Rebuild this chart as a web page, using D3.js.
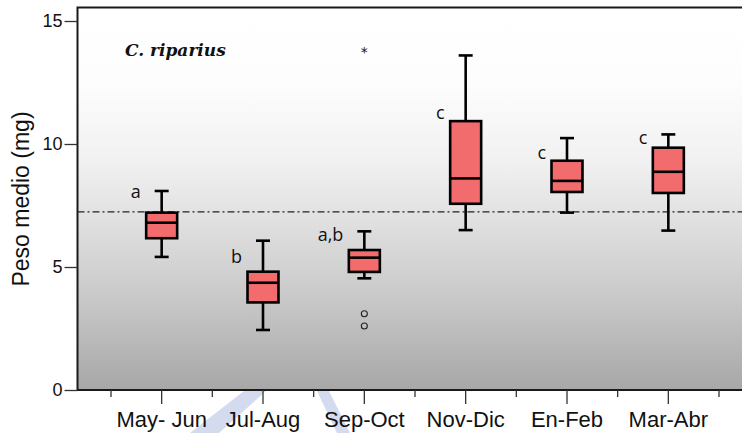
<!DOCTYPE html>
<html>
<head>
<meta charset="utf-8">
<script src="https://cdn.jsdelivr.net/npm/d3@7"></script>
<style>
  body { margin: 0; background: #fff; }
  svg { display: block; }
</style>
</head>
<body>
<svg width="742" height="433"></svg>
<script>
const categories = ["May- Jun", "Jul-Aug", "Sep-Oct", "Nov-Dic", "En-Feb", "Mar-Abr"];
const whiskerLow = [5.41, 2.44, 4.54, 6.50, 7.21, 6.48];
const q1 = [6.17, 3.56, 4.80, 7.57, 8.05, 8.01];
const median = [6.80, 4.36, 5.38, 8.60, 8.50, 8.87];
const q3 = [7.21, 4.81, 5.69, 10.93, 9.32, 9.85];
const whiskerHigh = [8.09, 6.07, 6.45, 13.60, 10.24, 10.39];
const letters = ["a", "b", "a,b", "c", "c", "c"];
const letterValue = [7.80, 5.16, 6.06, 11.02, 9.39, 10.00];
const outlierCat = ["Sep-Oct", "Sep-Oct"];
const outlierVal = [3.10, 2.60];
const extremeCat = ["Sep-Oct"];
const extremeVal = [13.82];
const refValue = 7.24;
const yTicks = [0, 5, 10, 15];

const svg = d3.select("svg");

const plotLeft = 77.5, plotTop = 7.5, plotBottom = 390, plotRight = 760;

const x = d3.scaleBand().domain(categories).range([111, 719]);
const y = d3.scaleLinear().domain([0, 15]).range([390, 21]);

// watermark behind the plot
const wm = "#d4dbee";
svg.append("polygon").attr("points", "244,391 266,391 219,433 190,433").attr("fill", wm);
svg.append("polygon").attr("points", "317,391 329,391 350,433 337,433").attr("fill", wm);

// gradient background
const grad = svg.append("defs").append("linearGradient")
    .attr("id", "bg").attr("x1", 0).attr("y1", 0).attr("x2", 0).attr("y2", 1);
[[0, "#ffffff"], [0.2, "#fdfdfd"], [0.4, "#f1f1f1"], [0.55, "#e1e1e1"], [0.75, "#cacaca"], [1, "#a7a7a7"]]
    .forEach(s => grad.append("stop").attr("offset", s[0]).attr("stop-color", s[1]));

svg.append("rect")
    .attr("x", plotLeft).attr("y", plotTop)
    .attr("width", plotRight - plotLeft).attr("height", plotBottom - plotTop)
    .attr("fill", "url(#bg)")
    .attr("stroke", "#1a1a1a").attr("stroke-width", 2);

// reference line
svg.append("line")
    .attr("x1", plotLeft).attr("x2", plotRight)
    .attr("y1", y(refValue)).attr("y2", y(refValue))
    .attr("stroke", "#222").attr("stroke-width", 1.2)
    .attr("stroke-dasharray", "7,3,2,3");

// y axis
const yAxis = svg.append("g")
    .attr("transform", `translate(${plotLeft},0)`)
    .call(d3.axisLeft(y).tickValues(yTicks).tickSize(13).tickPadding(2));
yAxis.select(".domain").remove();
yAxis.selectAll("line").attr("stroke", "#333").attr("stroke-width", 1.3);
yAxis.selectAll("text").attr("font-family", "Liberation Sans, Arial, sans-serif")
    .attr("font-size", 18).attr("fill", "#111");

// x axis: major ticks at categories, minor at band edges
const xAxis = svg.append("g")
    .attr("transform", `translate(0,${plotBottom})`)
    .call(d3.axisBottom(x).tickSize(14).tickPadding(7));
xAxis.select(".domain").remove();
xAxis.selectAll("line").attr("stroke", "#333").attr("stroke-width", 1.3);
xAxis.selectAll("text").attr("font-family", "Liberation Sans, Arial, sans-serif")
    .attr("font-size", 22).attr("fill", "#111");

const edges = categories.map(c => x(c)).concat([x.range()[1]]);
svg.append("g").selectAll("line").data(edges).join("line")
    .attr("x1", d => d).attr("x2", d => d)
    .attr("y1", plotBottom).attr("y2", plotBottom + 7)
    .attr("stroke", "#333").attr("stroke-width", 1.3);

// axis title
svg.append("text")
    .attr("transform", "translate(29,199) rotate(-90)")
    .attr("text-anchor", "middle")
    .attr("font-family", "Liberation Sans, Arial, sans-serif")
    .attr("font-size", 23).attr("fill", "#111")
    .text("Peso medio (mg)");

// species label
svg.append("text")
    .attr("x", 125).attr("y", 56)
    .attr("font-family", "DejaVu Serif, serif")
    .attr("font-style", "italic").attr("font-weight", "bold")
    .attr("font-size", 17).attr("fill", "#111")
    .text("C. riparius");

// boxes
const bw = 31, cap = 14;
const boxes = svg.append("g").selectAll("g").data(categories).join("g")
    .attr("transform", d => `translate(${x(d) + x.bandwidth() / 2},0)`);

boxes.append("line")
    .attr("y1", (d, i) => y(whiskerLow[i])).attr("y2", (d, i) => y(whiskerHigh[i]))
    .attr("stroke", "#000").attr("stroke-width", 2.6);
boxes.append("line").attr("x1", -cap / 2).attr("x2", cap / 2)
    .attr("y1", (d, i) => y(whiskerLow[i])).attr("y2", (d, i) => y(whiskerLow[i]))
    .attr("stroke", "#000").attr("stroke-width", 2.6);
boxes.append("line").attr("x1", -cap / 2).attr("x2", cap / 2)
    .attr("y1", (d, i) => y(whiskerHigh[i])).attr("y2", (d, i) => y(whiskerHigh[i]))
    .attr("stroke", "#000").attr("stroke-width", 2.6);
boxes.append("rect")
    .attr("x", -bw / 2).attr("width", bw)
    .attr("y", (d, i) => y(q3[i]))
    .attr("height", (d, i) => y(q1[i]) - y(q3[i]))
    .attr("fill", "#f26b6d").attr("stroke", "#000").attr("stroke-width", 2.6);
boxes.append("line").attr("x1", -bw / 2).attr("x2", bw / 2)
    .attr("y1", (d, i) => y(median[i])).attr("y2", (d, i) => y(median[i]))
    .attr("stroke", "#000").attr("stroke-width", 2.6);

// significance letters
boxes.append("text")
    .attr("x", -21)
    .attr("y", (d, i) => y(letterValue[i]))
    .attr("text-anchor", "end")
    .attr("font-family", "Open Sans, sans-serif")
    .attr("font-size", 18).attr("fill", "#111")
    .text((d, i) => letters[i]);

// outliers
const cx = c => x(c) + x.bandwidth() / 2;
svg.append("g").selectAll("circle").data(outlierVal).join("circle")
    .attr("cx", (d, i) => cx(outlierCat[i]))
    .attr("cy", d => y(d))
    .attr("r", 3)
    .attr("fill", "none").attr("stroke", "#222").attr("stroke-width", 1.1);
svg.append("g").selectAll("text").data(extremeVal).join("text")
    .attr("x", (d, i) => cx(extremeCat[i]))
    .attr("y", d => y(d) + 7)
    .attr("text-anchor", "middle")
    .attr("font-family", "DejaVu Sans, sans-serif")
    .attr("font-size", 14).attr("fill", "#111")
    .text("*");
</script>
</body>
</html>
